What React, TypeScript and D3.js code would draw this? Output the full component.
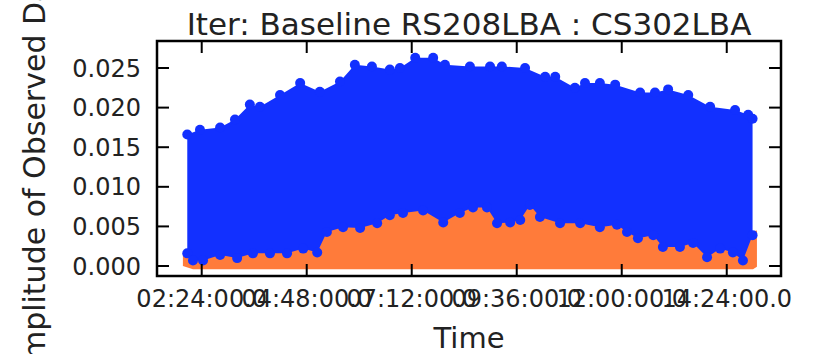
import React from "react";
import * as d3 from "d3";

// ---- data (time in hours, amplitude values) ----
const blueTopTime = [2.07, 2.36, 2.82, 3.16, 3.5, 3.73, 4.19, 4.65, 5.1, 5.56, 5.9, 6.29, 6.7, 6.93, 7.28, 7.69, 7.96, 8.53, 8.99, 9.26, 9.79, 10.25, 10.48, 10.93, 11.16, 11.5, 11.85, 12.42, 12.76, 13.06, 13.52, 14.02, 14.59, 14.89, 14.99];
const blueTopValue = [0.0166, 0.0172, 0.0175, 0.0185, 0.0204, 0.0201, 0.0216, 0.0231, 0.022, 0.0233, 0.0254, 0.0252, 0.0248, 0.025, 0.0263, 0.0263, 0.0254, 0.0252, 0.0252, 0.0252, 0.025, 0.0239, 0.0239, 0.0225, 0.0231, 0.0231, 0.0229, 0.0219, 0.0219, 0.0223, 0.0216, 0.0201, 0.0197, 0.0191, 0.0186];

const blueBottomTime = [2.07, 2.2, 2.43, 2.82, 3.21, 3.57, 3.96, 4.35, 4.72, 5.04, 5.26, 5.63, 6.02, 6.41, 6.7, 7.0, 7.46, 7.92, 8.3, 8.6, 8.92, 9.15, 9.45, 9.68, 9.9, 10.13, 10.59, 11.05, 11.5, 11.89, 12.12, 12.37, 12.72, 12.94, 13.33, 13.63, 13.95, 14.25, 14.54, 14.77, 14.99];
const blueBottomValue = [0.0016, 0.0007, 0.0007, 0.0014, 0.001, 0.0016, 0.0016, 0.0016, 0.0022, 0.0017, 0.0043, 0.0049, 0.0048, 0.0054, 0.0064, 0.0067, 0.007, 0.0055, 0.0067, 0.0074, 0.0074, 0.0054, 0.0055, 0.0058, 0.0077, 0.0062, 0.0054, 0.0054, 0.0049, 0.0052, 0.0043, 0.0035, 0.0039, 0.0024, 0.0024, 0.0029, 0.0011, 0.0022, 0.0017, 0.0007, 0.0039];

const orangeTopTime = [1.97, 3.0, 4.7, 5.3, 6.4, 7.5, 8.6, 9.9, 11.0, 12.1, 12.9, 14.0, 15.09];
const orangeTopValue = [0.0015, 0.0022, 0.003, 0.005, 0.0065, 0.008, 0.0082, 0.0075, 0.0068, 0.0058, 0.0045, 0.0035, 0.0045];
const orangeBottomTime = [1.97, 2.2, 15.0, 15.09];
const orangeBottomValue = [0.0, -0.0004, -0.0004, -0.0001];

const xTickValues = [2.4, 4.8, 7.2, 9.6, 12.0, 14.4];
const xTickLabels = ["02:24:00.0", "04:48:00.0", "07:12:00.0", "09:36:00.0", "12:00:00.0", "14:24:00.0"];
const yTickValues = [0, 0.005, 0.01, 0.015, 0.02, 0.025];

const title = "Iter: Baseline RS208LBA : CS302LBA";
const xLabel = "Time";
const yLabel = "Amplitude of Observed Data";

const BLUE = "#1230ff";
const ORANGE = "#ff7b3a";
const FONT = "'DejaVu Sans', sans-serif";

export default function App() {
  const W = 816, H = 354;
  const left = 157, right = 781, top = 41, bottom = 276;
  const x = d3.scaleLinear().domain([1.378, 15.64]).range([left, right]);
  const y = d3.scaleLinear().domain([-0.00126, 0.02841]).range([bottom, top]);

  const line = d3.line<[number, number]>().x(d => x(d[0])).y(d => y(d[1]));

  const bluePts: [number, number][] = [
    ...blueTopTime.map((t, i) => [t, blueTopValue[i]] as [number, number]),
    ...blueBottomTime.map((t, i) => [t, blueBottomValue[i]] as [number, number]).reverse(),
  ];
  const orangePts: [number, number][] = [
    ...orangeTopTime.map((t, i) => [t, orangeTopValue[i]] as [number, number]),
    ...orangeBottomTime.map((t, i) => [t, orangeBottomValue[i]] as [number, number]).reverse(),
  ];
  const fmtY = d3.format(".3f");
  const tickLen = 12;
  const r = 5;

  return (
    <svg width={W} height={H} style={{ position: "absolute", left: 0, top: 0, background: "#fff" }} fontFamily={FONT}>
      <rect x={0} y={0} width={W} height={H} fill="#fff" />
      <defs>
        <clipPath id="plotclip">
          <rect x={left} y={top} width={right - left} height={bottom - top} />
        </clipPath>
      </defs>
      <g clipPath="url(#plotclip)">
        <path d={line(orangePts) + "Z"} fill={ORANGE} />
        <path d={line(bluePts) + "Z"} fill={BLUE} />
        {blueTopTime.map((t, i) => (
          <circle key={"t" + i} cx={x(t)} cy={y(blueTopValue[i])} r={r} fill={BLUE} />
        ))}
        {blueBottomTime.map((t, i) => (
          <circle key={"b" + i} cx={x(t)} cy={y(blueBottomValue[i])} r={r} fill={BLUE} />
        ))}
      </g>
      {/* ticks */}
      {yTickValues.map((v, i) => (
        <g key={"yt" + i}>
          <line x1={left} x2={left + tickLen} y1={y(v)} y2={y(v)} stroke="#000" strokeWidth={2} />
          <line x1={right} x2={right - tickLen} y1={y(v)} y2={y(v)} stroke="#000" strokeWidth={2} />
          <text x={141} y={y(v)} dy="0.36em" textAnchor="end" fontSize={24} fill="#222">{fmtY(v)}</text>
        </g>
      ))}
      {xTickValues.map((v, i) => (
        <g key={"xt" + i}>
          <line x1={x(v)} x2={x(v)} y1={bottom} y2={bottom - tickLen} stroke="#000" strokeWidth={2} />
          <line x1={x(v)} x2={x(v)} y1={top} y2={top + tickLen} stroke="#000" strokeWidth={2} />
          <text x={x(v)} y={307} textAnchor="middle" fontSize={24} fill="#222">{xTickLabels[i]}</text>
        </g>
      ))}
      <rect x={left} y={top} width={right - left} height={bottom - top} fill="none" stroke="#000" strokeWidth={2.5} />
      <text x={(left + right) / 2} y={35} textAnchor="middle" fontSize={31} fill="#222">{title}</text>
      <text x={(left + right) / 2} y={348} textAnchor="middle" fontSize={29} fill="#222">{xLabel}</text>
      <text transform={`translate(45,167) rotate(-90)`} textAnchor="middle" fontSize={30} fill="#222">{yLabel}</text>
    </svg>
  );
}
